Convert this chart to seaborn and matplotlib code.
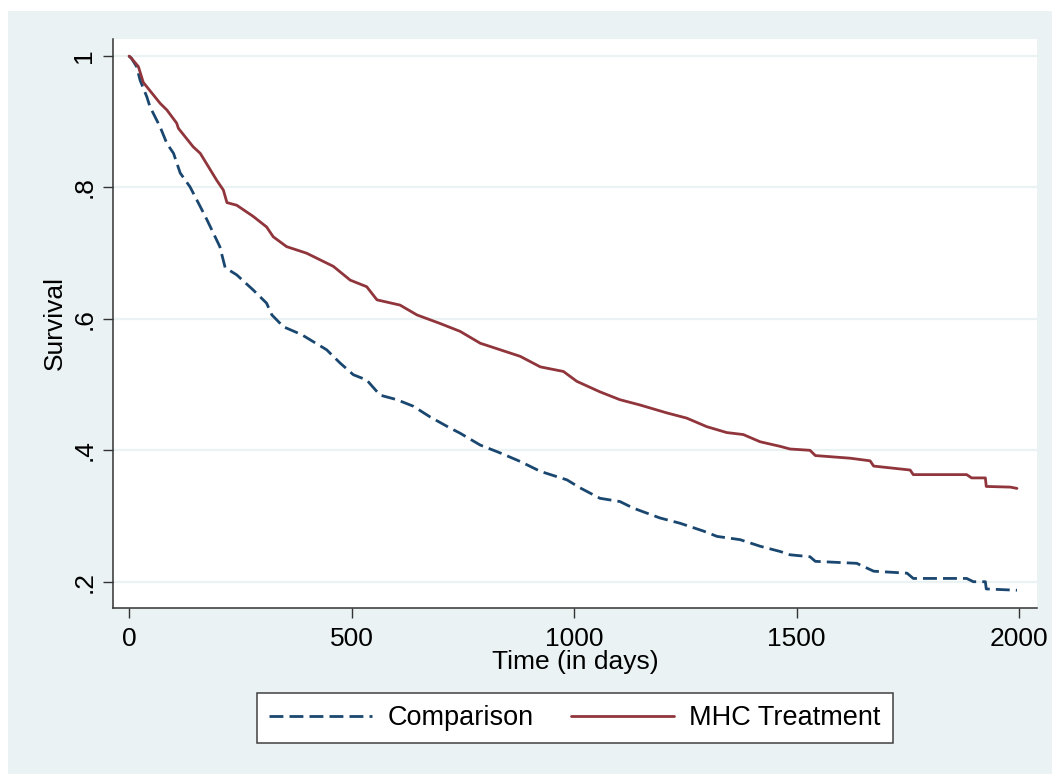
import matplotlib
matplotlib.use("Agg")
import matplotlib.pyplot as plt
import seaborn as sns
import pandas as pd
from matplotlib.patches import Rectangle
from matplotlib.lines import Line2D

# Kaplan-Meier style survival
comp_days = [0, 5, 17, 25, 40, 47, 70, 85, 100, 115, 137, 160, 175, 204, 216, 242, 279,
             309, 321, 347, 388, 444, 474, 504, 534, 564, 602, 639, 676, 721, 744, 789,
             834, 879, 924, 984, 1013, 1058, 1103, 1133, 1193, 1238, 1291, 1321, 1373,
             1418, 1463, 1485, 1530, 1542, 1635, 1673, 1748, 1762, 1882, 1897, 1924,
             1926, 1995]
comp_surv = [1.0, 0.997, 0.984, 0.963, 0.938, 0.923, 0.892, 0.867, 0.852, 0.822, 0.801,
             0.771, 0.751, 0.710, 0.678, 0.667, 0.644, 0.624, 0.606, 0.588, 0.576, 0.553,
             0.533, 0.515, 0.507, 0.484, 0.477, 0.467, 0.451, 0.434, 0.426, 0.408, 0.396,
             0.383, 0.368, 0.355, 0.343, 0.327, 0.322, 0.312, 0.297, 0.289, 0.277, 0.269,
             0.264, 0.254, 0.246, 0.241, 0.238, 0.231, 0.228, 0.216, 0.213, 0.205, 0.205,
             0.200, 0.200, 0.189, 0.187]

mhc_days = [0, 5, 21, 32, 70, 85, 107, 111, 144, 160, 197, 212, 220, 242, 279, 309, 324,
            354, 399, 429, 459, 497, 534, 557, 609, 647, 699, 744, 789, 834, 879, 924,
            976, 1006, 1058, 1103, 1148, 1208, 1253, 1298, 1343, 1380, 1418, 1463, 1485,
            1530, 1542, 1620, 1665, 1673, 1755, 1762, 1882, 1893, 1924, 1926, 1980, 1995]
mhc_surv = [1.0, 0.997, 0.984, 0.960, 0.928, 0.918, 0.898, 0.890, 0.862, 0.852, 0.811,
            0.796, 0.777, 0.773, 0.756, 0.740, 0.725, 0.710, 0.700, 0.690, 0.680, 0.659,
            0.649, 0.629, 0.621, 0.606, 0.593, 0.581, 0.563, 0.553, 0.543, 0.527, 0.520,
            0.505, 0.489, 0.477, 0.469, 0.457, 0.449, 0.436, 0.427, 0.424, 0.413, 0.406,
            0.402, 0.400, 0.392, 0.388, 0.384, 0.376, 0.370, 0.363, 0.363, 0.358, 0.358,
            0.345, 0.344, 0.342]

y_ticks = [0.2, 0.4, 0.6, 0.8, 1.0]
y_ticklabels = [".2", ".4", ".6", ".8", "1"]
x_ticks = [0, 500, 1000, 1500, 2000]

BLUE = "#1a476f"
RED = "#90353b"
BG = "#eaf2f3"

sns.set_style("white")
plt.rcParams["font.family"] = ["Liberation Sans", "DejaVu Sans"]
plt.rcParams["text.color"] = "black"
plt.rcParams["axes.labelcolor"] = "black"
plt.rcParams["xtick.color"] = "black"
plt.rcParams["ytick.color"] = "black"

fig = plt.figure(figsize=(10.52, 7.74), dpi=100)
fig.patch.set_facecolor("white")
fig.patches.append(Rectangle((8 / 1052, 0), 1, 1 - 11 / 774, transform=fig.transFigure,
                             facecolor=BG, edgecolor="none", zorder=-10))

ax = fig.add_axes([113 / 1052, 1 - 608 / 774, 924 / 1052, 569 / 774])
ax.set_facecolor("white")

comp = pd.DataFrame({"days": comp_days, "surv": comp_surv})
mhc = pd.DataFrame({"days": mhc_days, "surv": mhc_surv})

for yt in y_ticks:
    ax.axhline(yt, color=BG, lw=1.6, zorder=0)

sns.lineplot(data=comp, x="days", y="surv", ax=ax, color=BLUE, lw=2.0,
             estimator=None, sort=False)
ax.lines[-1].set_dashes((5.0, 2.2))
sns.lineplot(data=mhc, x="days", y="surv", ax=ax, color=RED, lw=2.0,
             estimator=None, sort=False)

ax.set_xlim(-36, 2040)
ax.set_ylim(0.160, 1.026)
ax.set_xticks(x_ticks)
ax.set_xticklabels([str(x) for x in x_ticks], fontsize=19)
ax.set_yticks(y_ticks)
ax.set_yticklabels(y_ticklabels, fontsize=19, rotation=90, va="center")
ax.tick_params(axis="both", direction="out", length=7, width=1.0, color="#333333",
               left=True, bottom=True)
ax.tick_params(axis="x", pad=7)
ax.tick_params(axis="y", pad=5)

for s in ["top", "right"]:
    ax.spines[s].set_visible(False)
for s in ["left", "bottom"]:
    ax.spines[s].set_color("#333333")
    ax.spines[s].set_linewidth(1.1)

ax.set_xlabel("Time (in days)", fontsize=19)
ax.xaxis.set_label_coords(0.5, -0.074)
ax.set_ylabel("Survival", fontsize=19)
ax.yaxis.set_label_coords(-0.05, 0.5)

handles = [Line2D([], [], color=BLUE, lw=2.0, dashes=(5.0, 2.2)),
           Line2D([], [], color=RED, lw=2.0)]
leg = fig.legend(handles, ["Comparison", "MHC Treatment"], ncol=2, fontsize=19.5,
                 loc="center", bbox_to_anchor=(575 / 1052, 1 - 718 / 774),
                 frameon=True, fancybox=False, framealpha=1, edgecolor="#404040",
                 handlelength=3.8, handletextpad=0.55, columnspacing=1.4,
                 borderpad=0.45)
leg.get_frame().set_linewidth(1.1)

fig.savefig("out.png", dpi=100)
